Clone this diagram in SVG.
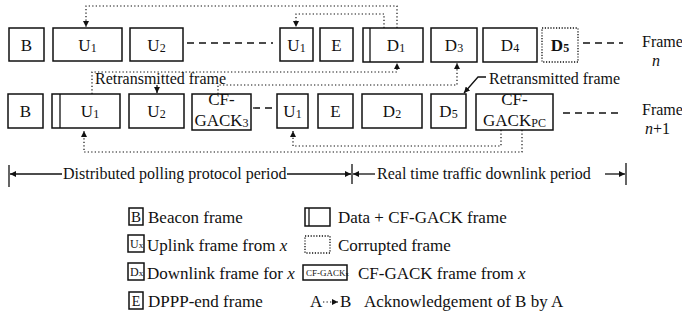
<svg xmlns="http://www.w3.org/2000/svg" width="682" height="326" viewBox="0 0 682 326">
<defs>
<style>
text{font-family:"Liberation Serif","Times New Roman",serif;fill:#111}
.box{fill:#fff;stroke:#111;stroke-width:1.5}
.cor{fill:#fff;stroke:#111;stroke-width:1.3;stroke-dasharray:1.2 1.6}
.lbl{font-size:17px;text-anchor:middle}
.sub{font-size:12px}
.dot{fill:none;stroke:#111;stroke-width:1.2;stroke-dasharray:1.3 2.2}
.dash{fill:none;stroke:#111;stroke-width:1.3;stroke-dasharray:7 5}
.sol{fill:none;stroke:#111;stroke-width:1.3}
.lg{font-size:16px}
.lg2{font-size:17px}
.it{font-style:italic}
</style>
<marker id="ah" viewBox="0 0 10 10" refX="10" refY="5" markerWidth="6" markerHeight="6" markerUnits="userSpaceOnUse" orient="auto"><path d="M0,0 L10,5 L0,10 z" fill="#111"/></marker>
</defs>
<rect width="682" height="326" fill="#fff"/>

<!-- top row: frame n -->
<g id="t-B"><rect class="box" x="9" y="28" width="35" height="33"/><text class="lbl" x="26.5" y="51">B</text></g>
<g id="t-U1"><rect class="box" x="53" y="28" width="69" height="33"/><text class="lbl" x="87.5" y="51">U<tspan class="sub" dy="1">1</tspan></text></g>
<g id="t-U2"><rect class="box" x="130" y="28" width="53" height="33"/><text class="lbl" x="156.5" y="51">U<tspan class="sub" dy="1">2</tspan></text></g>
<g id="t-U1b"><rect class="box" x="280" y="28" width="33" height="33"/><text class="lbl" x="296.5" y="51">U<tspan class="sub" dy="1">1</tspan></text></g>
<g id="t-E"><rect class="box" x="320" y="28" width="33" height="33"/><text class="lbl" x="336.5" y="51">E</text></g>
<g id="t-D1"><rect class="box" x="363" y="28" width="60" height="34"/><line class="sol" x1="370" y1="28" x2="370" y2="62"/><text class="lbl" x="396" y="51">D<tspan class="sub" dy="1">1</tspan></text></g>
<g id="t-D3"><rect class="box" x="431" y="28" width="46" height="34"/><text class="lbl" x="454" y="51">D<tspan class="sub" dy="1">3</tspan></text></g>
<g id="t-D4"><rect class="box" x="483" y="28" width="54" height="34"/><text class="lbl" x="510" y="51">D<tspan class="sub" dy="1">4</tspan></text></g>
<g id="t-D5"><rect class="cor" x="542" y="28" width="36" height="34"/><text class="lbl" x="560" y="51" font-weight="bold">D<tspan class="sub" dy="1">5</tspan></text></g>

<!-- bottom row: frame n+1 -->
<g id="b-B"><rect class="box" x="8" y="94" width="35" height="34"/><text class="lbl" x="25.5" y="117">B</text></g>
<g id="b-U1"><rect class="box" x="52" y="94" width="68" height="34"/><line class="sol" x1="60" y1="94" x2="60" y2="128"/><text class="lbl" x="90" y="117">U<tspan class="sub" dy="1">1</tspan></text></g>
<g id="b-U2"><rect class="box" x="129" y="94" width="55" height="34"/><text class="lbl" x="156.5" y="117">U<tspan class="sub" dy="1">2</tspan></text></g>
<g id="b-GACK3"><rect class="box" x="192" y="94" width="59" height="36"/><text class="lbl" x="221.5" y="105">CF-</text><text class="lbl" x="221.5" y="126">GACK<tspan class="sub" dy="1">3</tspan></text></g>
<g id="b-U1b"><rect class="box" x="277" y="94" width="31" height="34"/><text class="lbl" x="292.5" y="117">U<tspan class="sub" dy="1">1</tspan></text></g>
<g id="b-E"><rect class="box" x="318" y="94" width="35" height="34"/><text class="lbl" x="335.5" y="117">E</text></g>
<g id="b-D2"><rect class="box" x="362" y="94" width="60" height="34"/><text class="lbl" x="392" y="117">D<tspan class="sub" dy="1">2</tspan></text></g>
<g id="b-D5"><rect class="box" x="431" y="94" width="35" height="34"/><text class="lbl" x="448.5" y="117">D<tspan class="sub" dy="1">5</tspan></text></g>
<g id="b-GACKPC"><rect class="box" x="476" y="94" width="77" height="36"/><text class="lbl" x="514.5" y="105">CF-</text><text class="lbl" x="514.5" y="126">GACK<tspan class="sub" dy="1">PC</tspan></text></g>

<!-- connectors -->
<g id="connectors">
<path class="dash" d="M187,43 H273"/>
<path class="dash" d="M583,43 H623"/>
<path class="dash" d="M253,108 H275"/>
<path class="dash" d="M563,113 H623"/>
<path class="dot" d="M397,28 V6 H86 V27" marker-end="url(#ah)"/>
<path class="dot" d="M384,28 V14 H296 V27" marker-end="url(#ah)"/>
<path class="dot" d="M92,94 V72 H397 V63" marker-end="url(#ah)"/>
<path class="dot" d="M218,94 V85 H457 V63" marker-end="url(#ah)"/>
<path class="dot" d="M522,130 V152 H84 V131" marker-end="url(#ah)"/>
<path class="dot" d="M501,130 V146 H293 V131" marker-end="url(#ah)"/>
<path class="sol" d="M157,85 V93" marker-end="url(#ah)"/>
<path class="sol" d="M486,77 H478 L464,93" marker-end="url(#ah)"/>
<!-- period bar -->
<path class="sol" d="M9,165 V187"/>
<path class="sol" d="M62,174 H10" marker-end="url(#ah)"/>
<path class="sol" d="M287,174 H351" marker-end="url(#ah)"/>
<path class="sol" d="M352,164 V184"/>
<path class="sol" d="M375,174 H353" marker-end="url(#ah)"/>
<path class="sol" d="M605,174 H625" marker-end="url(#ah)"/>
<path class="sol" d="M626,163 V185"/>
</g>

<!-- labels -->
<g id="labels">
<text class="lg" x="95" y="84">Retransmitted frame</text>
<text class="lg" x="489" y="84">Retransmitted frame</text>
<text class="lg" x="642" y="47">Frame</text>
<text class="lg it" x="652" y="66">n</text>
<text class="lg" x="642" y="115">Frame</text>
<text class="lg" x="645" y="134"><tspan class="it">n</tspan>+1</text>
<text class="lg" x="63" y="179">Distributed polling protocol period</text>
<text class="lg" x="377" y="179">Real time traffic downlink period</text>
</g>

<!-- legend -->
<g id="legend">
<g id="lg-B"><rect class="box" x="129" y="208" width="14" height="17" stroke-width="1.2"/><text x="136" y="222" font-size="15" text-anchor="middle">B</text><text class="lg2" x="148" y="223">Beacon frame</text></g>
<g id="lg-U"><rect class="box" x="128" y="235" width="16" height="17" stroke-width="1.2"/><text x="130" y="248" font-size="12">U<tspan font-size="9">x</tspan></text><text class="lg2" x="147" y="251">Uplink frame from <tspan class="it">x</tspan></text></g>
<g id="lg-D"><rect class="box" x="128" y="263" width="16" height="17" stroke-width="1.2"/><text x="130" y="276" font-size="12">D<tspan font-size="9">x</tspan></text><text class="lg2" x="147" y="279">Downlink frame for <tspan class="it">x</tspan></text></g>
<g id="lg-E"><rect class="box" x="129" y="292" width="14" height="17" stroke-width="1.2"/><text x="136" y="306" font-size="14" text-anchor="middle">E</text><text class="lg2" x="148" y="307">DPPP-end frame</text></g>
<g id="lg-data"><rect class="box" x="305" y="208" width="25" height="18" stroke-width="1.2"/><line class="sol" x1="309" y1="208" x2="309" y2="226" stroke-width="1.1"/><text class="lg2" x="338" y="223">Data + CF-GACK frame</text></g>
<g id="lg-cor"><rect class="cor" x="305" y="236" width="25" height="17"/><text class="lg2" x="338" y="251">Corrupted frame</text></g>
<g id="lg-gack"><rect class="box" x="303" y="265" width="44" height="15" stroke-width="1.1"/><text x="306" y="276" font-size="9">CF-GACK<tspan font-size="6.5">x</tspan></text><text class="lg2" x="358" y="279">CF-GACK frame from <tspan class="it">x</tspan></text></g>
<g id="lg-ack"><text class="lg2" x="310" y="307">A</text><path class="dot" d="M323,302 H338" marker-end="url(#ah)"/><text class="lg2" x="340" y="307">B</text><text class="lg2" x="364" y="307">Acknowledgement of B by A</text></g>
</g>
</svg>
